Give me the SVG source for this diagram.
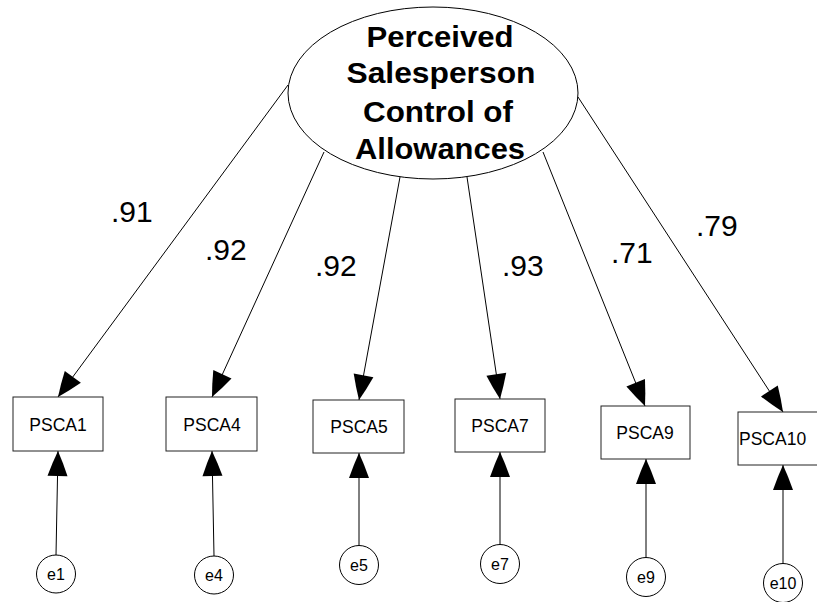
<svg xmlns="http://www.w3.org/2000/svg" width="817" height="602" viewBox="0 0 817 602">
  <style>
    .shape { fill: #fff; stroke: #000; stroke-width: 1; }
    .box { fill: #fff; stroke: #222; stroke-width: 1; }
    .link { stroke: #000; stroke-width: 1; fill: none; marker-end: url(#head); }
    .latent { font-family: "Liberation Sans", Arial, sans-serif; font-weight: bold; font-size: 29px; text-anchor: middle; }
    .obs { font-family: "Liberation Sans", Arial, sans-serif; font-size: 17.5px; text-anchor: middle; }
    .err { font-family: "Liberation Sans", Arial, sans-serif; font-size: 16px; text-anchor: middle; }
    .coef { font-family: "Liberation Sans", Arial, sans-serif; font-size: 30px; }
  </style>
  <defs>
    <!-- filled arrowhead, 25 long and 20 wide, sides very slightly bowed -->
    <marker id="head" markerUnits="userSpaceOnUse" markerWidth="28" markerHeight="24" viewBox="-27 -12 28 24" refX="0" refY="0" orient="auto">
      <path d="M0,0 Q-12,-5.5 -25,-10 L-25,10 Q-12,5.5 0,0 Z" fill="#000"/>
    </marker>
  </defs>

  <rect width="817" height="602" fill="#fff"/>

  <!-- connectors -->
  <g id="connectors">
    <line class="link" x1="288" y1="85" x2="58" y2="397"/>
    <line class="link" x1="324" y1="152" x2="212" y2="397"/>
    <line class="link" x1="400" y1="177" x2="359" y2="400"/>
    <line class="link" x1="467" y1="177" x2="500" y2="399"/>
    <line class="link" x1="543" y1="152" x2="645" y2="406"/>
    <line class="link" x1="578" y1="97" x2="783" y2="412"/>

    <line class="link" x1="56" y1="555" x2="58" y2="451"/>
    <line class="link" x1="214" y1="556" x2="212" y2="451"/>
    <line class="link" x1="359" y1="546" x2="359" y2="453"/>
    <line class="link" x1="500" y1="545" x2="500" y2="452"/>
    <line class="link" x1="646" y1="558" x2="646" y2="459"/>
    <line class="link" x1="783" y1="564" x2="783" y2="465"/>
  </g>

  <!-- loading coefficients -->
  <g id="coefficients">
    <text class="coef" x="111" y="222">.91</text>
    <text class="coef" x="205" y="260">.92</text>
    <text class="coef" x="315" y="276">.92</text>
    <text class="coef" x="502" y="276">.93</text>
    <text class="coef" x="611" y="263">.71</text>
    <text class="coef" x="696" y="236">.79</text>
  </g>

  <!-- latent factor -->
  <g id="PSCA">
    <ellipse class="shape" cx="433" cy="93" rx="145" ry="86"/>
    <text class="latent" x="440" y="47" textLength="147" lengthAdjust="spacingAndGlyphs">Perceived</text>
    <text class="latent" x="441" y="83" textLength="189" lengthAdjust="spacingAndGlyphs">Salesperson</text>
    <text class="latent" x="438" y="122" textLength="150" lengthAdjust="spacingAndGlyphs">Control of</text>
    <text class="latent" x="440" y="159" textLength="170" lengthAdjust="spacingAndGlyphs">Allowances</text>
  </g>

  <!-- observed indicators -->
  <g id="PSCA1">
    <rect class="box" x="13" y="397" width="90" height="54"/>
    <text class="obs" x="58" y="431">PSCA1</text>
  </g>
  <g id="PSCA4">
    <rect class="box" x="166" y="397" width="91" height="54"/>
    <text class="obs" x="212" y="431">PSCA4</text>
  </g>
  <g id="PSCA5">
    <rect class="box" x="313" y="400" width="91" height="53"/>
    <text class="obs" x="359" y="433">PSCA5</text>
  </g>
  <g id="PSCA7">
    <rect class="box" x="455" y="399" width="90" height="53"/>
    <text class="obs" x="500" y="432">PSCA7</text>
  </g>
  <g id="PSCA9">
    <rect class="box" x="601" y="406" width="89" height="53"/>
    <text class="obs" x="645" y="439">PSCA9</text>
  </g>
  <g id="PSCA10">
    <rect class="box" x="738" y="412" width="90" height="53"/>
    <text class="obs" x="739" y="445" style="text-anchor:start">PSCA10</text>
  </g>

  <!-- error terms -->
  <g id="e1">
    <ellipse class="shape" cx="56" cy="574" rx="19.5" ry="19"/>
    <text class="err" x="56" y="580">e1</text>
  </g>
  <g id="e4">
    <ellipse class="shape" cx="214" cy="575" rx="19.5" ry="19"/>
    <text class="err" x="214" y="581">e4</text>
  </g>
  <g id="e5">
    <ellipse class="shape" cx="359" cy="565" rx="19.5" ry="19.5"/>
    <text class="err" x="359" y="571">e5</text>
  </g>
  <g id="e7">
    <ellipse class="shape" cx="500" cy="564" rx="19.5" ry="19.5"/>
    <text class="err" x="500" y="570">e7</text>
  </g>
  <g id="e9">
    <ellipse class="shape" cx="646" cy="577" rx="19.5" ry="19.5"/>
    <text class="err" x="646" y="583">e9</text>
  </g>
  <g id="e10">
    <ellipse class="shape" cx="783" cy="583" rx="19.5" ry="19.5"/>
    <text class="err" x="783" y="589">e10</text>
  </g>
</svg>
